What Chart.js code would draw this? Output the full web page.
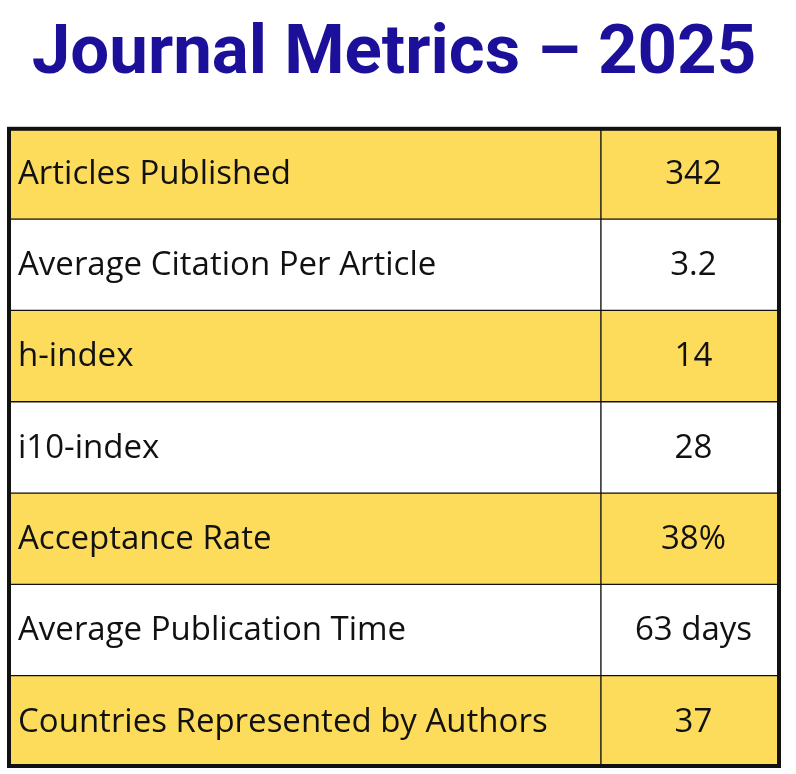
<!DOCTYPE html>
<html>
<head>
<meta charset="utf-8">
<script src="https://cdn.jsdelivr.net/npm/chart.js@4/dist/chart.umd.min.js"></script>
<style>
  html, body { margin: 0; padding: 0; background: #ffffff; }
  #wrap { width: 796px; height: 774px; position: relative; }
</style>
</head>
<body>
<div id="wrap"><canvas id="metrics-chart"></canvas></div>
<script>
// Table content
const metricNames = [
    'Articles Published',
    'Average Citation Per Article',
    'h-index',
    'i10-index',
    'Acceptance Rate',
    'Average Publication Time',
    'Countries Represented by Authors'
];
const metricValues = ['342', '3.2', '14', '28', '38%', '63 days', '37'];
const chartTitle = 'Journal Metrics \u2013 2025';

// where the value column starts, as a share of the table width
const COL_SPLIT = 0.768;
const YELLOW = '#fddc5c';
const INK = '#111111';
const CELL_FONT = '"Open Sans", sans-serif';

const rowFills = metricNames.map((_, i) => i % 2 === 0 ? YELLOW : '#ffffff');

// writes the labels / values into the cells and draws the thick frame
const cellText = {
    id: 'cellText',
    afterDatasetsDraw(chart) {
        const { ctx, chartArea, scales } = chart;
        const xs = scales.x;
        const ys = scales.y;
        ctx.save();
        ctx.fillStyle = INK;
        ctx.font = '33px ' + CELL_FONT;
        ctx.textBaseline = 'middle';
        metricNames.forEach((name, i) => {
            const y = ys.getPixelForValue(i) + 1;
            ctx.textAlign = 'left';
            ctx.fillText(name, xs.getPixelForValue(0) + 10, y);
            ctx.textAlign = 'center';
            ctx.fillText(metricValues[i], xs.getPixelForValue((COL_SPLIT + 1) / 2) + 3, y);
        });
        ctx.lineWidth = 4;
        ctx.strokeStyle = INK;
        ctx.strokeRect(chartArea.left + 1, chartArea.top + 1,
            chartArea.right - chartArea.left - 2, chartArea.bottom - chartArea.top - 2);
        ctx.restore();
    }
};

const ctx = document.getElementById('metrics-chart').getContext('2d');

new Chart(ctx, {
    type: 'bar',
    data: {
        labels: metricNames,
        datasets: [{
            label: 'Metric',
            data: metricNames.map(() => [0, COL_SPLIT]),
            backgroundColor: rowFills,
            borderColor: INK,
            borderWidth: 1,
            borderSkipped: false,
            grouped: false,
            barPercentage: 1,
            categoryPercentage: 1
        }, {
            label: 'Value',
            data: metricNames.map(() => [COL_SPLIT, 1]),
            backgroundColor: rowFills,
            borderColor: INK,
            borderWidth: 1,
            borderSkipped: false,
            grouped: false,
            barPercentage: 1,
            categoryPercentage: 1
        }]
    },
    options: {
        indexAxis: 'y',
        responsive: true,
        maintainAspectRatio: false,
        animation: false,
        layout: {
            padding: { left: 8, right: 16, top: 0, bottom: 7 }
        },
        scales: {
            x: { type: 'linear', min: 0, max: 1, display: false },
            y: { display: false }
        },
        plugins: {
            legend: { display: false },
            tooltip: { enabled: false },
            title: {
                display: true,
                text: chartTitle,
                color: '#1c109a',
                font: { family: 'Roboto, sans-serif', size: 69, weight: 'bold', lineHeight: 1.2 },
                padding: { top: 14, bottom: 31 }
            }
        }
    },
    plugins: [cellText]
});
</script>
</body>
</html>
